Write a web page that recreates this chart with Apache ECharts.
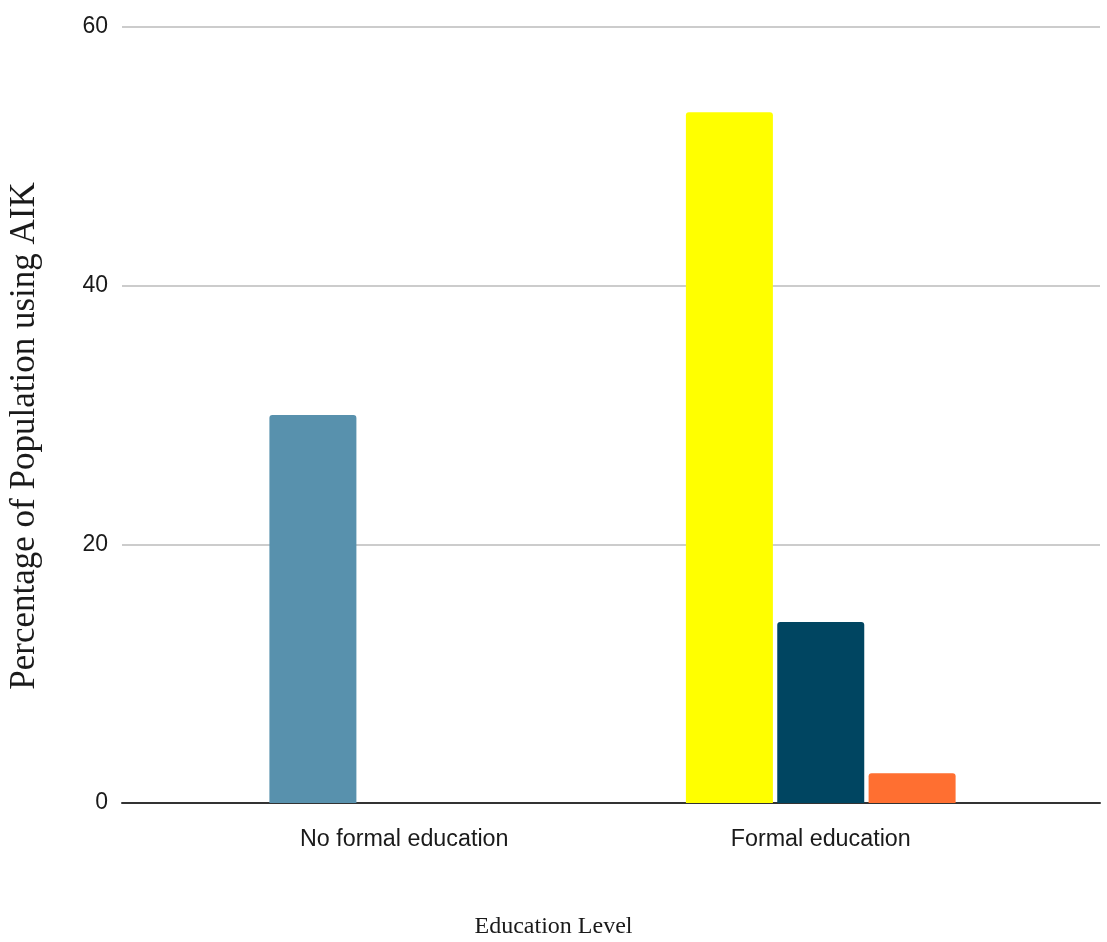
<!DOCTYPE html>
<html>
<head>
<meta charset="utf-8">
<script src="https://cdn.jsdelivr.net/npm/echarts@6/dist/echarts.min.js"></script>
<style>
html,body{margin:0;padding:0;background:#fff;}
#chart{width:1107px;height:942px;}
</style>
</head>
<body>
<div id="chart"></div>
<script>
const categories = ["No formal education", "Formal education"];
const seriesA = [30.0, 53.4];
const seriesB = [0, 14.0];
const seriesC = [0, 2.3];
const colorsA = ["#5891AD", "#FFFF00"];
const colorsB = ["#004561", "#004561"];
const colorsC = ["#FF6F31", "#FF6F31"];
const yTicks = [0, 20, 40, 60];
const xTitle = "Education Level";
const yTitle = "Percentage of Population using AIK";

const labelFont = '"Liberation Sans", Arial, sans-serif';
const serifFont = '"Liberation Serif", "Times New Roman", serif';

function mk(vals, cols) {
  return vals.map((v, i) => ({ value: v, itemStyle: { color: cols[i] } }));
}

const chart = echarts.init(document.getElementById('chart'), null, { renderer: 'canvas' });
const common = { type: 'bar', xAxisIndex: 1, yAxisIndex: 1, barWidth: 87, barGap: '5%',
  itemStyle: { borderRadius: [3, 3, 0, 0] }, animation: false };

chart.setOption({
  animation: false,
  backgroundColor: '#ffffff',
  grid: [
    { left: 122, right: 7, top: 27, bottom: 139 },
    { left: 196, right: 78, top: 27, bottom: 139 }
  ],
  xAxis: [
    { gridIndex: 0, type: 'category', data: categories,
      axisLine: { show: true, lineStyle: { color: '#333333', width: 2 } },
      axisTick: { show: false }, axisLabel: { show: false }, splitLine: { show: false } },
    { gridIndex: 1, type: 'category', data: categories,
      axisLine: { show: false }, axisTick: { show: false },
      axisLabel: { show: true, margin: 25, color: '#1a1a1a', fontSize: 23.3, fontFamily: labelFont } }
  ],
  yAxis: [
    { gridIndex: 0, type: 'value', min: yTicks[0], max: yTicks[yTicks.length - 1], interval: 20,
      axisLine: { show: false }, axisTick: { show: false },
      axisLabel: { show: true, margin: 14, color: '#1a1a1a', fontSize: 23, fontFamily: labelFont },
      splitLine: { show: true, lineStyle: { color: '#cccccc', width: 2 } } },
    { gridIndex: 1, type: 'value', min: yTicks[0], max: yTicks[yTicks.length - 1], interval: 20,
      show: false, splitLine: { show: false } }
  ],
  graphic: [
    { type: 'text', left: 'center', top: 915, style: { text: xTitle, font: '24px ' + serifFont, fill: '#1a1a1a' } },
    { type: 'text', x: 25, y: 436, rotation: Math.PI / 2,
      style: { text: yTitle, font: '35px ' + serifFont, fill: '#1a1a1a', align: 'center', verticalAlign: 'middle' } }
  ],
  series: [
    Object.assign({ name: 'A', data: mk(seriesA, colorsA) }, common),
    Object.assign({ name: 'B', data: mk(seriesB, colorsB) }, common),
    Object.assign({ name: 'C', data: mk(seriesC, colorsC) }, common)
  ]
});
</script>
</body>
</html>
